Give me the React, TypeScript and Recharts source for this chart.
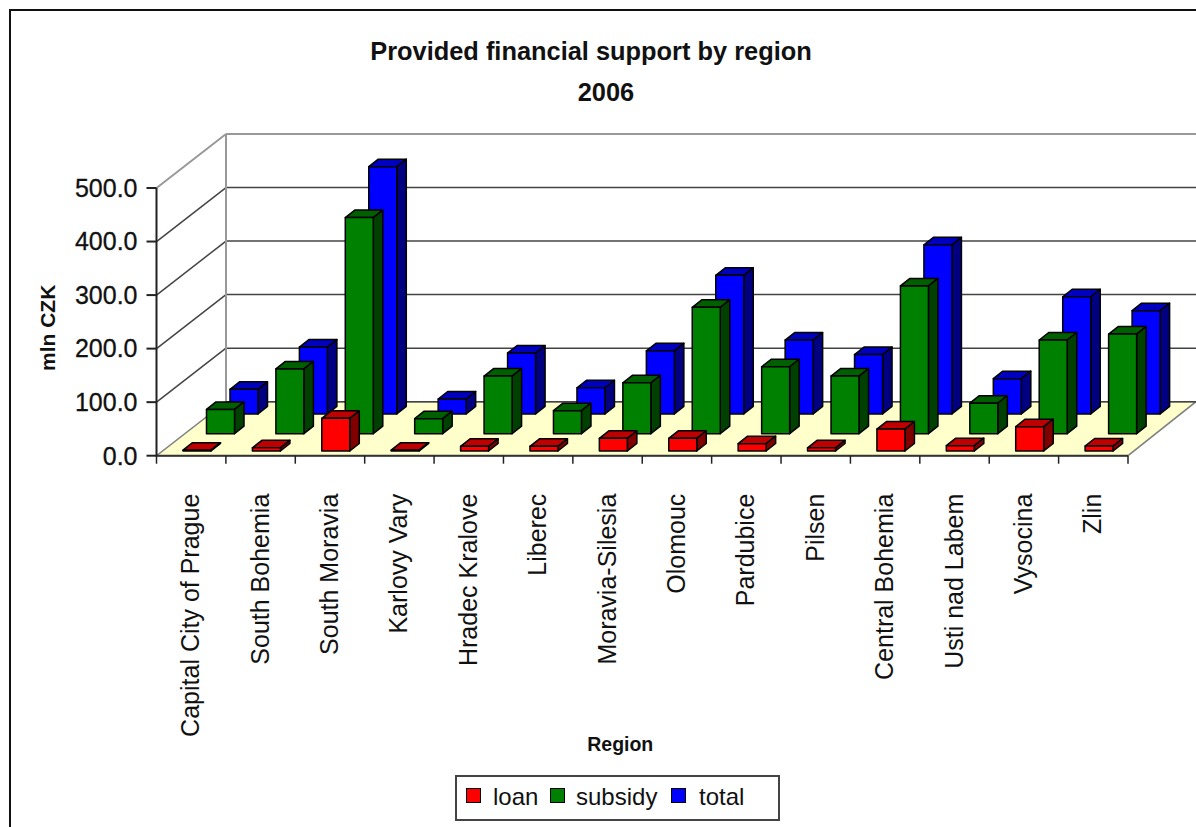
import { Bar, BarChart, CartesianGrid, Label, Legend, XAxis, YAxis } from "recharts";

const regions = [
  "Capital City of Prague",
  "South Bohemia",
  "South Moravia",
  "Karlovy Vary",
  "Hradec Kralove",
  "Liberec",
  "Moravia-Silesia",
  "Olomouc",
  "Pardubice",
  "Pilsen",
  "Central Bohemia",
  "Usti nad Labem",
  "Vysocina",
  "Zlin",
];
const loan = [1.5, 6, 61, 1.5, 8.7, 8.7, 23.6, 23.6, 13.7, 6, 41, 10, 45.4, 9.3];
const subsidy = [45.4, 121, 403.6, 28, 107.6, 43, 95, 236, 125, 107.6, 276, 57, 175, 186];
const total = [46, 125, 462, 28, 114, 49, 118, 259, 138, 111, 316, 66, 219, 193];
const valueTicks = [0, 100, 200, 300, 400, 500];

const data = regions.map((region, i) => ({
  region,
  loan: loan[i],
  subsidy: subsidy[i],
  total: total[i],
}));

const FONT = "'Liberation Sans', Arial, sans-serif";
const PLOT_BOTTOM = 455.7;
const PLOT_TOP = 188;
const WALL_DX = 69.5;
const WALL_DY = -54;
const WALL_RIGHT = 1196;
const BAND = 971.5 / 14;

// 3d column: the bars are grouped by recharts, then pushed to their depth row
function column(dx: number, dy: number, face: string, top: string, side: string) {
  return (p: any) => {
    const x = p.x + dx;
    const y = p.y + dy;
    const w = p.width + 5;
    const h = p.height;
    const sx = 9.5;
    const sy = -7.5;
    return (
      <g stroke="#000" strokeWidth={1.5} strokeLinejoin="round">
        <polygon
          points={`${x},${y} ${x + sx},${y + sy} ${x + w + sx},${y + sy} ${x + w},${y}`}
          fill={top}
        />
        <polygon
          points={`${x + w},${y} ${x + w + sx},${y + sy} ${x + w + sx},${y + h + sy} ${x + w},${y + h}`}
          fill={side}
        />
        <rect x={x} y={y} width={w} height={h} fill={face} />
      </g>
    );
  };
}

function wallLine(p: any) {
  const { x1, x2, y1 } = p;
  const isTop = Math.abs(y1 - PLOT_TOP) < 1;
  const isFloor = Math.abs(y1 - PLOT_BOTTOM) < 1;
  const bx = x1 + WALL_DX;
  const by = y1 + WALL_DY;
  if (isFloor) {
    return (
      <g key={p.key}>
        <polygon
          points={`${x1},${y1} ${x2},${y1} ${WALL_RIGHT},${by} ${bx},${by}`}
          fill="#ffffcc"
          stroke="#808080"
          strokeWidth={1.5}
        />
        <line x1={x1} y1={y1} x2={x2} y2={y1} stroke="#333" strokeWidth={2} />
        <line x1={bx} y1={by} x2={WALL_RIGHT} y2={by} stroke="#444" strokeWidth={1.5} />
      </g>
    );
  }
  const color = isTop ? "#999" : "#444";
  return (
    <g key={p.key} stroke={color} strokeWidth={isTop ? 2 : 1.5}>
      <line x1={x1} y1={y1} x2={bx} y2={by} />
      <line x1={bx} y1={by} x2={WALL_RIGHT} y2={by} />
      {isTop && <line x1={bx} y1={by} x2={bx} y2={PLOT_BOTTOM + WALL_DY} />}
    </g>
  );
}

function RegionTick(p: any) {
  const { x, y, payload, index } = p;
  const right = x + BAND / 2;
  return (
    <g>
      {index === 0 && <line x1={x - BAND / 2} y1={PLOT_BOTTOM} x2={x - BAND / 2} y2={PLOT_BOTTOM + 8} stroke="#222" strokeWidth={1.5} />}
      <line x1={right} y1={PLOT_BOTTOM} x2={right} y2={PLOT_BOTTOM + 8} stroke="#222" strokeWidth={1.5} />
      <text
        transform={`translate(${x - 1},${y + 30}) rotate(-90)`}
        textAnchor="end"
        dominantBaseline="central"
        fontFamily={FONT}
        fontSize={25}
        fill="#111"
      >
        {payload.value}
      </text>
    </g>
  );
}

const swatches: Record<string, { left: number; text: number }> = {
  loan: { left: 9, text: 36 },
  subsidy: { left: 93, text: 119 },
  total: { left: 214, text: 242 },
};

function LegendBox({ payload }: any) {
  return (
    <div
      style={{
        position: "relative",
        width: 321,
        height: 42,
        border: "2px solid #444",
        background: "#fff",
        fontFamily: FONT,
        fontSize: 24,
        color: "#111",
      }}
    >
      {(payload || []).map((item: any) => (
        <span key={item.value}>
          <span
            style={{
              position: "absolute",
              left: swatches[item.value].left,
              top: 11,
              width: 13,
              height: 13,
              background: item.color,
              border: "1.5px solid #000",
            }}
          />
          <span style={{ position: "absolute", left: swatches[item.value].text, top: 6, lineHeight: "27px" }}>
            {item.value}
          </span>
        </span>
      ))}
    </div>
  );
}

const titleStyle = {
  position: "absolute" as const,
  left: 0,
  width: 1182,
  textAlign: "center" as const,
  fontFamily: FONT,
  fontWeight: 700,
  fontSize: 25.4,
  color: "#111",
  lineHeight: "28px",
};

export default function App() {
  return (
    <div style={{ position: "absolute", left: 0, top: 0, width: 1196, height: 827, overflow: "hidden", background: "#fff" }}>
      <div style={{ position: "absolute", left: 9, top: 9, width: 1190, height: 830, borderLeft: "2px solid #111", borderTop: "2px solid #111" }} />
      <div style={{ ...titleStyle, top: 37 }}>Provided financial support by region</div>
      <div style={{ ...titleStyle, top: 78, left: 15 }}>2006</div>
      <div style={{ position: "absolute", left: 0, top: 0 }}>
        <BarChart
          width={1196}
          height={827}
          data={data}
          barSize={23}
          barGap={0}
          barCategoryGap={0}
          margin={{ top: PLOT_TOP, right: 68, bottom: 21.3, left: 10 }}
        >
          <CartesianGrid horizontal={wallLine} vertical={false} />
          <XAxis
            dataKey="region"
            interval={0}
            height={350}
            tickLine={false}
            axisLine={false}
            tick={RegionTick}
          >
            <Label
              value="Region"
              position="insideBottom"
              offset={0}
              dx={-22}
              dy={-55}
              style={{ fontFamily: FONT, fontWeight: 700, fontSize: 19.5, fill: "#111" }}
            />
          </XAxis>
          <YAxis
            domain={[0, 500]}
            ticks={valueTicks}
            width={146.5}
            tickSize={10}
            tickMargin={9}
            stroke="#222"
            strokeWidth={2}
            tickFormatter={(v: number) => v.toFixed(1)}
            tick={{ fontFamily: FONT, fontSize: 25, fill: "#111", stroke: "#111", strokeWidth: 0.3 }}
          >
            <Label
              value="mln CZK"
              angle={-90}
              position="insideLeft"
              dx={33}
              dy={6}
              style={{ fontFamily: FONT, fontWeight: 700, fontSize: 21, fill: "#111", textAnchor: "middle" }}
            />
          </YAxis>
          <Legend
            layout="horizontal"
            verticalAlign="middle"
            align="center"
            content={LegendBox}
            wrapperStyle={{ left: 455, top: 775, width: 325, height: 46, bottom: "auto", right: "auto" }}
          />
          <Bar dataKey="total" name="total" fill="#0000ff" isAnimationActive={false} shape={column(73.5, -41.7, "#0000ff", "#0000bf", "#000080")} />
          <Bar dataKey="subsidy" name="subsidy" fill="#008000" isAnimationActive={false} shape={column(27, -22, "#008000", "#006000", "#004000")} />
          <Bar dataKey="loan" name="loan" fill="#ff0000" isAnimationActive={false} shape={column(-19.5, -4.7, "#ff0000", "#bf0000", "#800000")} />
        </BarChart>
      </div>
    </div>
  );
}
